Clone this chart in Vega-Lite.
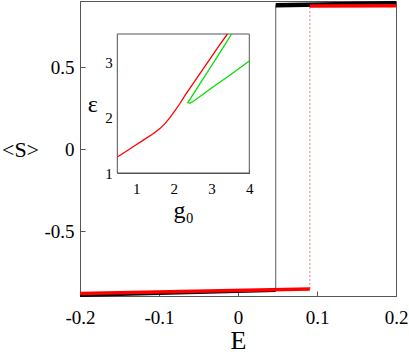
{
  "$schema": "https://vega.github.io/schema/vega-lite/v6.json",
  "width": 316,
  "height": 295,
  "autosize": {"type": "none"},
  "padding": {"left": 80, "top": 1, "right": 13, "bottom": 58},
  "background": "white",
  "config": {
    "view": {"stroke": "#555", "strokeWidth": 1},
    "font": "Liberation Serif, Times New Roman, DejaVu Serif, serif",
    "axis": {
      "grid": false,
      "domainColor": "#555",
      "tickColor": "#555",
      "labelColor": "#000",
      "titleColor": "#000",
      "titleFontWeight": "normal",
      "labelFont": "Liberation Serif, Times New Roman, DejaVu Serif, serif",
      "titleFont": "Liberation Serif, Times New Roman, DejaVu Serif, serif"
    }
  },
  "datasets": {
    "main": [
      {"s": "black_low", "i": 0, "E": -0.2, "S": -0.891},
      {"s": "black_low", "i": 1, "E": 0.0477, "S": -0.861},
      {"s": "black_jump", "i": 0, "E": 0.0477, "S": -0.861},
      {"s": "black_jump", "i": 1, "E": 0.0477, "S": 0.876},
      {"s": "black_high", "i": 0, "E": 0.0477, "S": 0.876},
      {"s": "black_high", "i": 1, "E": 0.2, "S": 0.888},
      {"s": "red_low", "i": 0, "E": -0.2, "S": -0.879},
      {"s": "red_low", "i": 1, "E": 0.091, "S": -0.851},
      {"s": "red_jump", "i": 0, "E": 0.091, "S": -0.851},
      {"s": "red_jump", "i": 1, "E": 0.091, "S": 0.871},
      {"s": "red_high", "i": 0, "E": 0.091, "S": 0.871},
      {"s": "red_high", "i": 1, "E": 0.2, "S": 0.873}
    ],
    "inset": [
      {"c": "red", "i": 0, "g": 0.5, "eps": 1.29},
      {"c": "red", "i": 1, "g": 0.75, "eps": 1.4},
      {"c": "red", "i": 2, "g": 0.97, "eps": 1.5},
      {"c": "red", "i": 3, "g": 1.2, "eps": 1.6},
      {"c": "red", "i": 4, "g": 1.45, "eps": 1.71},
      {"c": "red", "i": 5, "g": 1.63, "eps": 1.805},
      {"c": "red", "i": 6, "g": 1.77, "eps": 1.9},
      {"c": "red", "i": 7, "g": 1.9, "eps": 2.01},
      {"c": "red", "i": 8, "g": 2.03, "eps": 2.13},
      {"c": "red", "i": 9, "g": 2.16, "eps": 2.26},
      {"c": "red", "i": 10, "g": 2.3, "eps": 2.41},
      {"c": "red", "i": 11, "g": 2.5, "eps": 2.61},
      {"c": "red", "i": 12, "g": 2.75, "eps": 2.86},
      {"c": "red", "i": 13, "g": 3.0, "eps": 3.11},
      {"c": "red", "i": 14, "g": 3.2, "eps": 3.31},
      {"c": "red", "i": 15, "g": 3.42, "eps": 3.52},
      {"c": "green", "i": 0, "g": 3.53, "eps": 3.52},
      {"c": "green", "i": 1, "g": 3.2, "eps": 3.16},
      {"c": "green", "i": 2, "g": 2.9, "eps": 2.84},
      {"c": "green", "i": 3, "g": 2.6, "eps": 2.52},
      {"c": "green", "i": 4, "g": 2.43, "eps": 2.34},
      {"c": "green", "i": 5, "g": 2.37, "eps": 2.28},
      {"c": "green", "i": 6, "g": 2.42, "eps": 2.265},
      {"c": "green", "i": 7, "g": 2.52, "eps": 2.3},
      {"c": "green", "i": 8, "g": 3.0, "eps": 2.54},
      {"c": "green", "i": 9, "g": 3.5, "eps": 2.78},
      {"c": "green", "i": 10, "g": 4.0, "eps": 3.03}
    ]
  },
  "layer": [
    {
      "data": {"name": "main"},
      "encoding": {
        "x": {
          "field": "E",
          "type": "quantitative",
          "scale": {"domain": [-0.2, 0.2], "nice": false, "zero": false},
          "axis": {
            "orient": "bottom",
            "values": [-0.2, -0.1, 0, 0.1, 0.2],
            "labelExpr": "'' + datum.value",
            "tickSize": -5,
            "labelPadding": 17,
            "labelFontSize": 19,
            "labelFlush": false,
            "title": "E",
            "titleFontSize": 26,
            "titleY": 44,
            "titleBaseline": "middle"
          }
        },
        "y": {
          "field": "S",
          "type": "quantitative",
          "scale": {"domain": [-0.894, 0.902], "nice": false, "zero": false},
          "axis": {
            "orient": "left",
            "values": [-0.5, 0, 0.5],
            "labelExpr": "'' + datum.value",
            "tickSize": -5,
            "labelPadding": 11,
            "labelFontSize": 19,
            "title": "<S>",
            "titleFontSize": 22,
            "titleAngle": 0,
            "titleAlign": "center",
            "titleBaseline": "middle",
            "titleX": -60,
            "titleY": 148
          }
        },
        "order": {"field": "i", "type": "quantitative"}
      },
      "layer": [
        {"transform": [{"filter": "datum.s == 'black_jump'"}], "mark": {"type": "line", "stroke": "#777", "strokeWidth": 1.2}},
        {"transform": [{"filter": "datum.s == 'red_jump'"}], "mark": {"type": "line", "stroke": "#ff7070", "strokeWidth": 1, "strokeDash": [2, 2]}},
        {"transform": [{"filter": "datum.s == 'black_low'"}], "mark": {"type": "line", "stroke": "#000", "strokeWidth": 3}},
        {"transform": [{"filter": "datum.s == 'black_high'"}], "mark": {"type": "line", "stroke": "#000", "strokeWidth": 4.5}},
        {"transform": [{"filter": "datum.s == 'red_low'"}], "mark": {"type": "line", "stroke": "#ff0000", "strokeWidth": 3.5}},
        {"transform": [{"filter": "datum.s == 'red_high'"}], "mark": {"type": "line", "stroke": "#ff0000", "strokeWidth": 3.5}}
      ]
    },
    {
      "data": {"name": "inset"},
      "layer": [
        {
          "transform": [{"aggregate": [{"op": "count", "as": "n"}]}],
          "mark": {"type": "rect", "fill": "white", "stroke": "#555", "strokeWidth": 1},
          "encoding": {
            "x": {
              "datum": 0.5,
              "type": "quantitative",
              "scale": {"domain": [0.5, 4], "range": [37.3, 169.3], "nice": false, "zero": false},
              "axis": {
                "orient": "bottom",
                "offset": -123,
                "values": [1, 2, 3, 4],
                "labelExpr": "'' + datum.value",
                "tickSize": -4,
                "labelPadding": 12,
                "labelFontSize": 15,
                "labelFlush": false,
                "title": "g₀",
                "titleFontSize": 24,
                "titleY": 37,
                "titleBaseline": "middle"
              }
            },
            "x2": {"datum": 4},
            "y": {
              "datum": 1,
              "type": "quantitative",
              "scale": {"domain": [1, 3.52], "range": [172, 33], "nice": false, "zero": false},
              "axis": {
                "orient": "left",
                "offset": -37.3,
                "values": [1, 2, 3],
                "labelExpr": "'' + datum.value",
                "tickSize": -4,
                "labelPadding": 9,
                "labelFontSize": 15,
                "labelFlush": false,
                "title": "ε",
                "titleFontSize": 24,
                "titleAngle": 0,
                "titleAlign": "center",
                "titleBaseline": "middle",
                "titleX": -25,
                "titleY": 103
              }
            },
            "y2": {"datum": 3.52}
          }
        },
        {
          "transform": [{"filter": "datum.c == 'red'"}],
          "mark": {"type": "line", "stroke": "#ff0000", "strokeWidth": 1.3, "clip": true},
          "encoding": {
            "x": {"field": "g", "type": "quantitative"},
            "y": {"field": "eps", "type": "quantitative"},
            "order": {"field": "i", "type": "quantitative"}
          }
        },
        {
          "transform": [{"filter": "datum.c == 'green'"}],
          "mark": {"type": "line", "stroke": "#00e000", "strokeWidth": 1.3, "clip": true},
          "encoding": {
            "x": {"field": "g", "type": "quantitative"},
            "y": {"field": "eps", "type": "quantitative"},
            "order": {"field": "i", "type": "quantitative"}
          }
        }
      ]
    }
  ],
  "resolve": {"scale": {"x": "independent", "y": "independent"}}
}
